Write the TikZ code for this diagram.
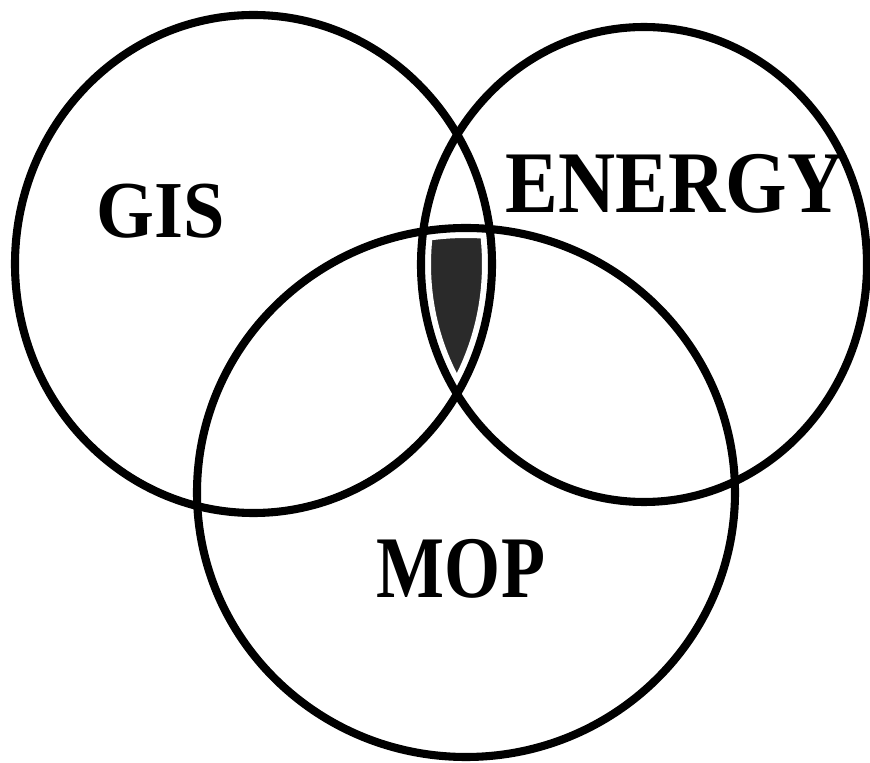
\documentclass[tikz,border=0pt]{standalone}
\usepackage{fontspec}
\setmainfont{Liberation Serif}
\usetikzlibrary{positioning}
\definecolor{vnink}{HTML}{000000}
\definecolor{vncore}{HTML}{2A2A2A}
\tikzset{
  ring/.style={draw=vnink, line width=4.6pt},
  gapring/.style={draw=white, line width=11.4pt},
  setlbl/.style={font=\bfseries\fontsize{50}{50}\selectfont, inner sep=0pt, anchor=base, text=vnink},
}

\begin{document}
\begin{tikzpicture}[x=0.02cm, y=-0.02cm]
  \useasboundingbox (0,0) rectangle (870,763);
  \coordinate (gisc) at (253.5,264);
  \coordinate (enc) at (644,264.5);
  \coordinate (mopc) at (466,492.5);
  % shaded core, all three sets
  \begin{scope}
    \clip (gisc) ellipse [x radius=238.5, y radius=249];
    \clip (enc) ellipse [x radius=223, y radius=237.5];
    \fill[vncore] (mopc) ellipse [x radius=269, y radius=264.5];
  \end{scope}
  \foreach \c/\rx/\ry in {gisc/238.5/249, enc/223/237.5, mopc/269/264.5}
    \draw[gapring] (\c) ellipse [x radius=\rx, y radius=\ry];
  \foreach \c/\rx/\ry in {gisc/238.5/249, enc/223/237.5, mopc/269/264.5}
    \draw[ring] (\c) ellipse [x radius=\rx, y radius=\ry];
  \node[setlbl, font=\bfseries\fontsize{46}{46}\selectfont, xscale=0.92] (gis) at (161,238) {GIS};
  \node[setlbl, xscale=0.90] (energy) at (675,213) {ENERGY};
  \node[setlbl, xscale=0.82] (mop) at (461,598) {MOP};
\end{tikzpicture}
\end{document}
